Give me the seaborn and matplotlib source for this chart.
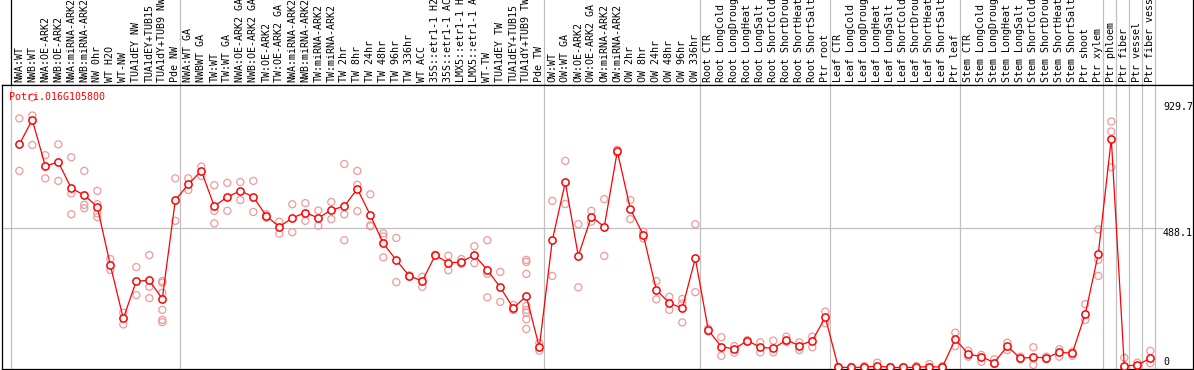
import pandas as pd
import matplotlib
matplotlib.use('Agg')
import matplotlib.pyplot as plt
import seaborn as sns

gene = 'Potri.016G105800'

labels = ['NWA:WT', 'NWB:WT', 'NWA:OE-ARK2', 'NWB:OE-ARK2', 'NWA:miRNA-ARK2', 'NWB:miRNA-ARK2',
          'NW 0hr', 'WT H2O', 'WT-NW', 'TUA1dEY NW', 'TUA1dEY+TUB15', 'TUA1dY+TUB9 NW', 'Pde NW',
          'NWA:WT GA', 'NWBWT GA', 'TW:WT', 'TW:WT GA', 'NWA:OE-ARK2 GA', 'NWB:OE-ARK2 GA',
          'TW:OE-ARK2', 'TW:OE-ARK2 GA', 'NWA:miRNA-ARK2', 'NWB:miRNA-ARK2', 'TW:miRNA-ARK2',
          'TW:miRNA-ARK2', 'TW 2hr', 'TW 8hr', 'TW 24hr', 'TW 48hr', 'TW 96hr', 'TW 336hr', 'WT ACC',
          '35S::etr1-1 H2', '35S::etr1-1 AC', 'LMX5::etr1-1 H', 'LMX5::etr1-1 A', 'WT-TW',
          'TUA1dEY TW', 'TUA1dEY+TUB15', 'TUA1dY+TUB9 TW', 'Pde TW',
          'OW:WT', 'OW:WT GA', 'OW:OE-ARK2', 'OW:OE-ARK2 GA', 'OW:miRNA-ARK2', 'OW:miRNA-ARK2',
          'OW 2hr', 'OW 8hr', 'OW 24hr', 'OW 48hr', 'OW 96hr', 'OW 336hr',
          'Root CTR', 'Root LongCold', 'Root LongDroug', 'Root LongHeat', 'Root LongSalt',
          'Root ShortCold', 'Root ShortDrou', 'Root ShortHeat', 'Root ShortSalt', 'Ptr root',
          'Leaf CTR', 'Leaf LongCold', 'Leaf LongDroug', 'Leaf LongHeat', 'Leaf LongSalt',
          'Leaf ShortCold', 'Leaf ShortDrou', 'Leaf ShortHeat', 'Leaf ShortSalt', 'Ptr leaf',
          'Stem CTR', 'Stem LongCold', 'Stem LongDroug', 'Stem LongHeat', 'Stem LongSalt',
          'Stem ShortCold', 'Stem ShortDrou', 'Stem ShortHeat', 'Stem ShortSalt',
          'Ptr shoot', 'Ptr xylem', 'Ptr phloem', 'Ptr fiber', 'Ptr vessel', 'Ptr fiber vessel']

means = [782, 868, 706, 720, 628, 604, 563, 359, 172, 303, 305, 241, 586,
         642, 689, 565, 598, 619, 598, 531, 493, 524, 543, 524, 552, 565, 626, 534, 435, 376,
         321, 303, 394, 366, 370, 394, 342, 281, 208, 250, 71,
         446, 649, 391, 529, 493, 758, 556, 464, 272, 226, 208, 383,
         131, 73, 65, 94, 71, 67, 96, 77, 94, 176,
         1, 0, 1, 5, 0, 0, 1, 3, 1, 99,
         47, 38, 17, 75, 32, 36, 34, 53, 50, 188, 398,
         801, 5, 9, 32]

reps = [[873, 689], [947, 883, 780], [744, 663], [782, 654], [737, 610, 537], [689, 570, 558],
        [619, 572, 540, 527], [380, 342], [192, 151], [352, 254], [394, 283, 243],
        [303, 297, 262, 202, 167, 159], [663, 514],
        [663, 622], [704, 671], [639, 549, 505], [647, 549], [650, 587], [654, 545], [537, 525],
        [511, 469], [572, 474], [576, 514], [550, 497], [580, 520], [713, 537, 446],
        [689, 640, 548], [607, 498, 495], [470, 459, 386], [454, 299], [323, 318], [318, 283],
        [395, 393], [392, 341], [380, 363], [425, 366], [446, 328, 246], [335, 230], [219, 202],
        [377, 370, 328, 216, 202, 192, 169, 135], [85, 59],
        [584, 321], [724, 573], [502, 281], [549, 511], [590, 391], [763, 752], [587, 520],
        [476, 453], [303, 239], [248, 202], [240, 224, 158], [502, 264],
        [136, 126], [106, 41], [75, 52], [96, 91], [88, 53], [94, 53], [108, 90], [88, 61],
        [108, 71], [196, 155],
        [3, 0], [2, 0], [5, 0], [17, 0], [2, 0], [1, 0], [5, 0], [12, 0], [5, 0], [122, 75],
        [59, 38], [44, 20], [29, 12], [87, 61], [38, 29], [71, 32, 9], [38, 29], [64, 38],
        [55, 41], [222, 167], [484, 377, 321],
        [862, 827, 702], [34, 0], [17, 5], [58, 15]]

# first column of each group (separators drawn before these)
group_starts = [0, 13, 41, 53, 63, 73, 84, 85, 86, 87, 88]
scale_marks = [929.7, 488.1, 0]

W, H = 1194, 370
plt.rcParams['font.family'] = ['DejaVu Sans Mono']
plt.rcParams['font.size'] = 7.2

x = list(range(len(means)))
df_mean = pd.DataFrame({'x': x, 'value': means})
df_rep = pd.DataFrame({'x': [i for i, r in enumerate(reps) for _ in r],
                       'value': [v for r in reps for v in r]})

fig = plt.figure(figsize=(W / 100, H / 100), dpi=100)
xl = ((2 - 19.3) / 13, (1193 - 19.3) / 13)

# header with sample names
axh = fig.add_axes([2 / W, 285 / H, 1191 / W, 85 / H])
axh.set_xlim(*xl)
axh.set_ylim(0, 1)
axh.set_xticks([])
axh.set_yticks([])
for s in ['left', 'top']:
    axh.spines[s].set_visible(False)
for s in ['right', 'bottom']:
    axh.spines[s].set_linewidth(0.9)
axh.axvline(group_starts[0] - 0.64, color='black', lw=0.9)
for g in group_starts[1:]:
    axh.axvline(g - 0.64, color='#c0c0c0', lw=0.9)
for i, lab in enumerate(labels):
    axh.text(i, 0.03, lab, rotation=90, ha='center', va='bottom', color='black')

# expression plot
ax = fig.add_axes([2 / W, 1 / H, 1191 / W, 284 / H])
ax.set_xlim(*xl)
ax.set_ylim(-5.3, 990)
for g in group_starts:
    ax.axvline(g - 0.64, color='#c0c0c0', lw=0.9, zorder=0)
ax.axhline(scale_marks[1], xmax=(1163 - 2) / 1191, color='#c0c0c0', lw=0.9, zorder=0)

sns.scatterplot(data=df_rep, x='x', y='value', ax=ax, marker='o', s=26,
                linewidth=0.9, zorder=2, legend=False)
ax.collections[-1].set_facecolor('none')
ax.collections[-1].set_edgecolor('#ee9a9a')

sns.lineplot(data=df_mean, x='x', y='value', ax=ax, color='red', lw=0.9,
             marker='o', markersize=5.2, markerfacecolor='white', markeredgecolor='red',
             markeredgewidth=1.1, zorder=3)

ax.set_xticks([])
ax.set_yticks([])
ax.set_xlabel('')
ax.set_ylabel('')
for s in ax.spines.values():
    s.set_linewidth(0.9)

ax.text(7.3 / 1191, (369 - 96.7) / 284, gene, transform=ax.transAxes, color='red',
        ha='left', va='center')
xt = (1163 - 19.3) / 13
ax.text(xt, scale_marks[0], f'{scale_marks[0]}', ha='left', va='top')
ax.text(xt, scale_marks[1], f'{scale_marks[1]}', ha='left', va='top')
ax.text(xt, scale_marks[2], f'{scale_marks[2]}', ha='left', va='bottom')

plt.savefig('out.png', dpi=100)
